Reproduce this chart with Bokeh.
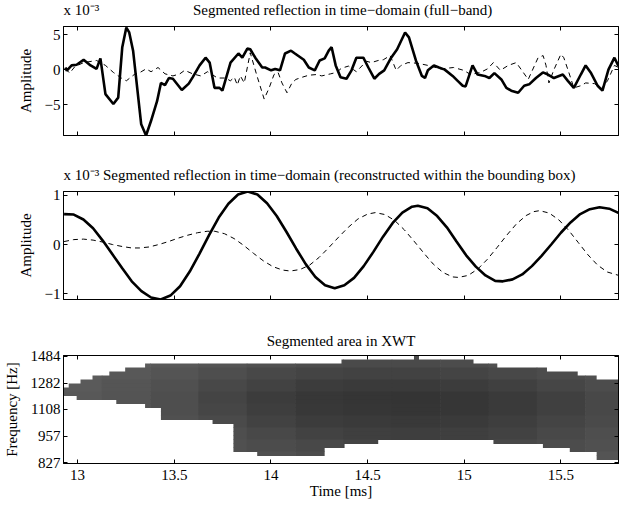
from bokeh.plotting import figure
from bokeh.layouts import column
from bokeh.models import Range1d, FixedTicker, LinearAxis, LogAxis
from bokeh.embed import file_html
from bokeh.resources import INLINE

FONT = "Liberation Serif"
NB = "\u00a0"

# ---------------- data ----------------
time_ticks = [13, 13.5, 14, 14.5, 15, 15.5]
time_labels = ["13", "13.5", "14", "14.5", "15", "15.5"]
exponent_text = "x 10\u207b\u00b3"

# Panel 1: full-band segmented reflection (x 1e-3)
full_solid_t = [12.937, 12.944, 12.969, 12.995, 13.031, 13.067, 13.098, 13.118, 13.144, 13.185,
                13.210, 13.231, 13.252, 13.267, 13.287, 13.329, 13.354, 13.380, 13.411, 13.431,
                13.452, 13.472, 13.493, 13.539, 13.575, 13.595, 13.631, 13.662, 13.683, 13.708,
                13.734, 13.749, 13.791, 13.832, 13.852, 13.878, 13.893, 13.919, 13.955, 13.970,
                14.001, 14.022, 14.047, 14.073, 14.104, 14.124, 14.170, 14.196, 14.227, 14.252,
                14.278, 14.299, 14.314, 14.335, 14.360, 14.391, 14.417, 14.442, 14.478, 14.504,
                14.535, 14.560, 14.586, 14.622, 14.653, 14.694, 14.714, 14.750, 14.781, 14.797,
                14.812, 14.843, 14.869, 14.899, 14.940, 14.966, 14.992, 15.007, 15.043, 15.069,
                15.105, 15.130, 15.156, 15.192, 15.218, 15.243, 15.279, 15.310, 15.336, 15.371,
                15.407, 15.433, 15.464, 15.510, 15.536, 15.567, 15.603, 15.628, 15.654, 15.690,
                15.715, 15.746, 15.777, 15.798]
full_solid_v = [0.3, -0.15, 0.6, 0.7, 1.4, 0.6, 0.1, 1.6, -3.5, -4.9,
                -4.0, 3.2, 6.0, 5.3, 2.7, -7.8, -9.4, -7.3, -4.5, -1.9,
                -2.2, -1.2, -1.3, -2.9, -2.0, -1.1, 0.6, 1.7, 1.0, -2.6,
                -2.6, -3.0, 1.0, 2.3, 1.7, 3.0, 2.9, 1.7, 0.3, 0.3,
                -0.1, 0.1, -0.1, 2.3, 2.7, 2.3, 1.4, 0.3, -0.1, 1.3,
                1.6, 2.7, 3.2, 0.6, -1.1, -1.3, -0.1, 1.7, 1.7, 0.3,
                -1.3, -0.6, -0.1, 1.7, 2.9, 5.3, 4.6, 1.3, -0.9, -1.2,
                -0.1, 0.6, 0.3, 0.0, -0.9, -1.6, -2.3, -2.4, 0.6, -0.7,
                -0.9, -1.2, -0.5, -1.4, -2.6, -3.0, -3.3, -2.3, -2.1, -1.2,
                -0.4, -0.7, -1.2, -0.7, -1.6, -2.6, -0.7, 0.6, -0.4, -2.3,
                -3.0, 0.0, 1.7, 0.5]
full_dash_t = [12.938, 12.959, 12.985, 13.031, 13.098, 13.144, 13.185, 13.226, 13.252, 13.293,
               13.323, 13.354, 13.380, 13.416, 13.452, 13.493, 13.529, 13.554, 13.595, 13.637,
               13.672, 13.724, 13.765, 13.790, 13.811, 13.826, 13.842, 13.862, 13.893, 13.929,
               13.965, 13.991, 14.016, 14.037, 14.057, 14.083, 14.109, 14.129, 14.160, 14.196,
               14.237, 14.263, 14.309, 14.340, 14.365, 14.401, 14.427, 14.442, 14.494, 14.519,
               14.555, 14.581, 14.617, 14.648, 14.673, 14.709, 14.761, 14.812, 14.879, 14.945,
               14.997, 15.033, 15.084, 15.120, 15.151, 15.187, 15.228, 15.269, 15.295, 15.331,
               15.382, 15.408, 15.423, 15.438, 15.464, 15.500, 15.515, 15.541, 15.567, 15.603,
               15.628, 15.674, 15.710, 15.741, 15.777, 15.798]
full_dash_v = [0.1, -0.5, 0.4, 1.0, 1.3, 0.6, -0.4, -1.2, -1.6, -0.7,
               -0.4, 0.1, -0.3, 0.3, -0.6, -0.9, -0.6, -0.1, -0.6, -0.9,
               -0.3, -1.2, -1.2, -1.6, -1.1, -2.2, -0.9, -1.9, 2.4, -1.0,
               -4.2, -2.6, -0.7, -0.4, -1.9, -3.3, -1.9, -1.4, -1.1, -0.8,
               -0.7, -0.9, -0.6, -0.4, 0.2, 0.5, 0.0, -0.3, 1.2, 1.0,
               1.3, 1.4, 2.0, -0.1, 0.6, 1.0, 0.9, 0.6, 0.1, 0.3,
               -0.1, -0.7, -0.4, 0.1, 1.0, -0.1, 0.6, 1.0, 0.0, -1.4,
               1.7, 2.0, 0.6, -1.9, 0.0, 2.2, 1.7, -0.4, -2.6, -2.3,
               -1.9, -2.0, -2.7, -1.6, 0.6, 0.3]

# Panel 2: reconstructed within the bounding box (x 1e-3)
rec_solid_t = [12.93, 12.98, 13.03, 13.08, 13.13, 13.18, 13.23, 13.28, 13.33, 13.38,
               13.43, 13.48, 13.53, 13.58, 13.63, 13.68, 13.73, 13.78, 13.83, 13.88,
               13.93, 13.98, 14.03, 14.08, 14.13, 14.18, 14.23, 14.28, 14.33, 14.38,
               14.43, 14.48, 14.53, 14.58, 14.63, 14.68, 14.73, 14.76, 14.81, 14.86,
               14.91, 14.96, 15.01, 15.06, 15.11, 15.16, 15.20, 15.25, 15.30, 15.35,
               15.40, 15.45, 15.50, 15.55, 15.60, 15.65, 15.70, 15.75, 15.80]
rec_solid_v = [0.62, 0.61, 0.51, 0.33, 0.08, -0.20, -0.48, -0.75, -0.95, -1.08,
               -1.12, -1.04, -0.85, -0.55, -0.19, 0.19, 0.55, 0.83, 1.02, 1.08,
               1.02, 0.84, 0.58, 0.26, -0.08, -0.40, -0.66, -0.83, -0.89, -0.83,
               -0.68, -0.44, -0.15, 0.16, 0.44, 0.65, 0.77, 0.79, 0.74, 0.58,
               0.35, 0.06, -0.22, -0.45, -0.63, -0.74, -0.75, -0.71, -0.61, -0.44,
               -0.23, 0.00, 0.24, 0.45, 0.62, 0.72, 0.76, 0.73, 0.64]
rec_dash_t = [12.93, 12.98, 13.03, 13.08, 13.13, 13.18, 13.23, 13.28, 13.32, 13.37,
              13.42, 13.47, 13.52, 13.57, 13.62, 13.67, 13.71, 13.76, 13.81, 13.86,
              13.91, 13.96, 14.01, 14.06, 14.10, 14.15, 14.20, 14.25, 14.30, 14.35,
              14.40, 14.45, 14.50, 14.54, 14.59, 14.64, 14.69, 14.74, 14.79, 14.84,
              14.89, 14.94, 14.97, 15.02, 15.07, 15.12, 15.17, 15.22, 15.27, 15.32,
              15.36, 15.39, 15.44, 15.49, 15.54, 15.59, 15.64, 15.69, 15.74, 15.80]
rec_dash_v = [0.06, 0.10, 0.11, 0.09, 0.05, 0.00, -0.04, -0.07, -0.07, -0.05,
              0.00, 0.06, 0.13, 0.19, 0.24, 0.27, 0.27, 0.22, 0.12, -0.02,
              -0.18, -0.33, -0.45, -0.52, -0.54, -0.51, -0.42, -0.26, -0.06, 0.15,
              0.35, 0.52, 0.62, 0.65, 0.61, 0.49, 0.30, 0.07, -0.17, -0.40,
              -0.57, -0.66, -0.67, -0.63, -0.50, -0.30, -0.06, 0.19, 0.42, 0.59,
              0.67, 0.69, 0.64, 0.50, 0.29, 0.04, -0.21, -0.42, -0.56, -0.63]

# Panel 3: segmented XWT area (rows on a log-frequency grid, top to bottom)
freq_ticks = [827, 957, 1108, 1282, 1484]
xwt_row_edges_hz = [1492.0, 1459.4, 1427.5, 1396.8, 1366.3, 1336.5, 1307.3, 1278.8, 1251.0, 1223.6,
                    1196.8, 1170.7, 1145.2, 1120.4, 1095.9, 1072.0, 1048.6, 1025.6, 1003.2, 981.3,
                    959.9, 938.9, 918.5, 898.5, 878.9, 859.7, 840.9, 822.5]
xwt_seg_row = [0, 1, 2, 3, 4, 5, 6, 7, 8, 9, 10, 11, 12, 13, 14, 15, 16, 17, 18, 19, 20,
               21, 21, 22, 22, 23, 23, 24, 24, 25]
xwt_seg_t0 = [14.740, 14.365, 13.349, 13.246, 13.164, 13.077, 13.015, 12.954, 12.92, 12.92,
              12.995, 13.200, 13.349, 13.431, 13.431, 13.431, 13.698, 13.806, 13.806, 13.806,
              13.806, 13.806, 15.151, 13.806, 15.407, 13.806, 15.546, 13.929, 15.685, 15.685]
xwt_seg_t1 = [14.766, 15.048, 15.171, 15.428, 15.587, 15.685, 15.80, 15.80, 15.80, 15.80,
              15.80, 15.80, 15.80, 15.80, 15.80, 15.80, 15.80, 15.80, 15.80, 15.80,
              15.80, 14.555, 15.80, 14.381, 15.80, 14.278, 15.80, 14.278, 15.80, 15.80]
xwt_band_edges_ms = [12.875, 13.125, 13.375, 13.625, 13.875, 14.125, 14.375, 14.625,
                     14.875, 15.125, 15.375, 15.625, 15.875]
# grey level (0-255) per group of three rows x time band
xwt_gray = [
    [95, 92, 88, 84, 80, 76, 74, 74, 76, 80, 84, 88],
    [92, 88, 84, 78, 72, 68, 66, 66, 68, 72, 76, 80],
    [90, 85, 80, 72, 66, 60, 58, 58, 60, 64, 70, 76],
    [88, 84, 78, 68, 60, 55, 53, 52, 54, 58, 64, 72],
    [88, 84, 78, 70, 62, 56, 54, 53, 54, 58, 64, 72],
    [88, 84, 80, 74, 66, 60, 58, 57, 58, 62, 68, 74],
    [88, 86, 82, 78, 72, 66, 63, 62, 63, 66, 72, 78],
    [88, 86, 84, 80, 76, 72, 68, 66, 68, 72, 76, 80],
    [88, 86, 84, 82, 80, 76, 72, 70, 72, 76, 80, 84],
]

# ---------------- helpers ----------------
X_RANGE = (12.927, 15.798)


def style_axis(ax, ticks, labels, show):
    ax.ticker = FixedTicker(ticks=ticks, minor_ticks=[])
    ax.major_tick_in = 4
    ax.major_tick_out = 0
    ax.minor_tick_in = 0
    ax.minor_tick_out = 0
    ax.axis_line_color = "black"
    ax.major_tick_line_color = "black"
    ax.major_label_text_font = FONT
    ax.major_label_text_color = "black"
    ax.axis_label_text_font = FONT
    ax.axis_label_text_font_style = "normal"
    ax.axis_label_text_font_size = "15px"
    ax.axis_label_text_color = "black"
    if show:
        ax.major_label_text_font_size = "15px"
        ax.major_label_overrides = {k: v for k, v in zip(ticks, labels)}
    else:
        ax.major_label_text_font_size = "0px"
        ax.major_label_standoff = 0
        ax.major_label_overrides = {k: "" for k in ticks}


def make_fig(height, top, bottom, y_range, title, align, standoff, margin_top=0, log=False):
    p = figure(width=626, height=height,
               x_range=Range1d(*X_RANGE), y_range=y_range,
               y_axis_type="log" if log else "linear",
               output_backend="svg", toolbar_location=None,
               min_border_left=61, min_border_right=8,
               min_border_top=top, min_border_bottom=bottom,
               margin=(margin_top, 0, 0, 0))
    p.background_fill_color = "white"
    p.border_fill_color = "white"
    p.outline_line_color = "black"
    p.outline_line_width = 1
    p.xgrid.visible = False
    p.ygrid.visible = False
    p.title.text = title
    p.title.align = align
    p.title.offset = 0
    p.title.text_font = FONT
    p.title.text_font_size = "15px"
    p.title.text_font_style = "normal"
    p.title.text_color = "black"
    p.title.standoff = standoff
    p.add_layout(LinearAxis(), "above")
    p.add_layout(LogAxis() if log else LinearAxis(), "right")
    return p


def hide_axes(p, xticks, yticks):
    style_axis(p.above[0], xticks, ["" for _ in xticks], False)
    style_axis(p.right[0], yticks, ["" for _ in yticks], False)


# ---------------- panel 1 ----------------
p1 = make_fig(165, 45, 11, Range1d(-9.4, 6.15),
              exponent_text + NB * 25 + "Segmented reflection in time\u2212domain (full\u2212band)",
              "left", 18, margin_top=-19)
p1.line(full_dash_t, full_dash_v, line_color="black", line_width=1, line_dash="5 4")
p1.line(full_solid_t, full_solid_v, line_color="black", line_width=2.6)
style_axis(p1.below[0], time_ticks, time_labels, False)
style_axis(p1.left[0], [-5, 0, 5], ["\u22125", "0", "5"], True)
hide_axes(p1, time_ticks, [-5, 0, 5])
p1.left[0].axis_label = "Amplitude"
p1.left[0].major_label_standoff = 3
p1.left[0].axis_label_standoff = 8

# ---------------- panel 2 ----------------
p2 = make_fig(164, 45, 11, Range1d(-1.12, 1.08),
              exponent_text + NB + "Segmented reflection in time\u2212domain (reconstructed within the bounding box)",
              "left", 17)
p2.line(rec_dash_t, rec_dash_v, line_color="black", line_width=1, line_dash="5 4")
p2.line(rec_solid_t, rec_solid_v, line_color="black", line_width=2.6)
style_axis(p2.below[0], time_ticks, time_labels, False)
style_axis(p2.left[0], [-1, 0, 1], ["\u22121", "0", "1"], True)
hide_axes(p2, time_ticks, [-1, 0, 1])
p2.left[0].axis_label = "Amplitude"
p2.left[0].major_label_standoff = 3
p2.left[0].axis_label_standoff = 8

# ---------------- panel 3 ----------------
p3 = make_fig(197, 45, 44, Range1d(822.5, 1492.0), "Segmented area in XWT", "center", 13, log=True)
lefts, rights, tops, bottoms, colors = [], [], [], [], []
for r, t0, t1 in zip(xwt_seg_row, xwt_seg_t0, xwt_seg_t1):
    g = min(r // 3, len(xwt_gray) - 1)
    for j in range(len(xwt_band_edges_ms) - 1):
        a = max(t0, xwt_band_edges_ms[j])
        b = min(t1, xwt_band_edges_ms[j + 1])
        if b > a:
            lefts.append(a)
            # tiny overlaps hide anti-aliasing seams between neighbouring cells
            rights.append(b + 0.003 if b < t1 else b)
            tops.append(xwt_row_edges_hz[r])
            bottoms.append(xwt_row_edges_hz[r + 1] / 1.003)
            lv = xwt_gray[g][j]
            colors.append("#%02x%02x%02x" % (lv, lv, lv))
p3.quad(left=lefts, right=rights, top=tops, bottom=bottoms,
        fill_color=colors, line_color=None)
style_axis(p3.below[0], time_ticks, time_labels, True)
style_axis(p3.left[0], freq_ticks, [str(f) for f in freq_ticks], True)
hide_axes(p3, time_ticks, freq_ticks)
p3.left[0].axis_label = "Frequency [Hz]"
p3.left[0].major_label_standoff = 3
p3.left[0].axis_label_standoff = 8
p3.below[0].axis_label = "Time [ms]"
p3.below[0].major_label_standoff = 6
p3.below[0].axis_label_standoff = 0

layout = column(p1, p2, p3, spacing=0)
open("out.html", "w").write(file_html(layout, INLINE))
